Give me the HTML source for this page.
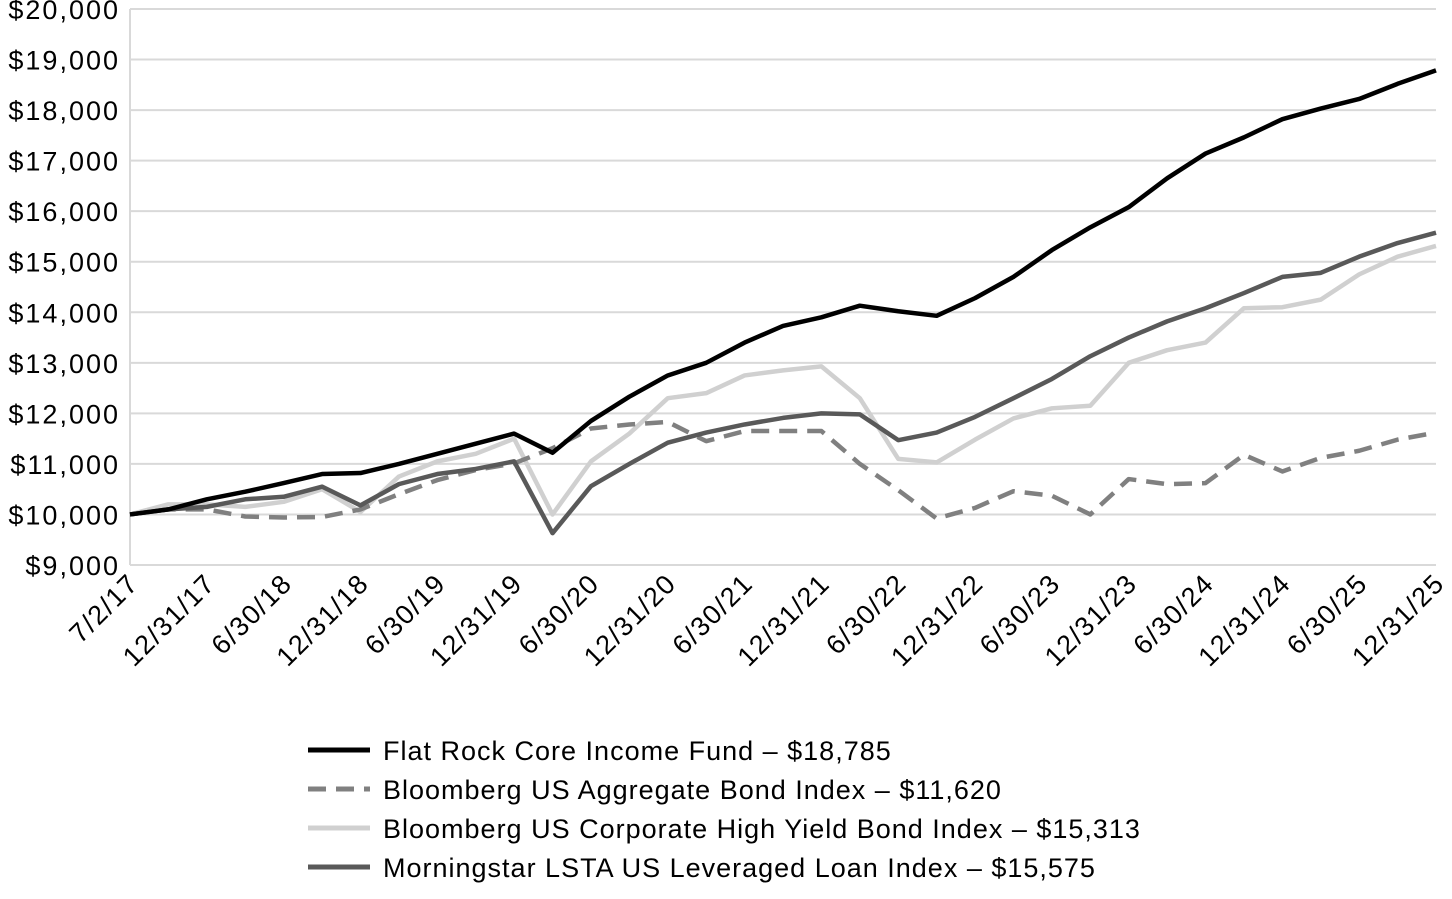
<!DOCTYPE html>
<html><head><meta charset="utf-8"><style>
html,body{margin:0;padding:0;background:#fff;}
svg{display:block;font-family:"Liberation Sans",sans-serif;}
</style></head><body>
<svg id="c" width="1452" height="899" viewBox="0 0 1452 899" xmlns="http://www.w3.org/2000/svg"></svg>
<script>
const s=document.getElementById('c');const NS='http://www.w3.org/2000/svg';
function el(t,a,txt){const e=document.createElementNS(NS,t);for(const k in a)e.setAttribute(k,a[k]);if(txt!==undefined)e.textContent=txt;s.appendChild(e);return e;}
const X0=130,X1=1436,Y20=9,Y9=565;
const yv=v=>Y9-(v-9000)*(Y9-Y20)/11000;
const xi=i=>X0+i*(X1-X0)/34;
for(let v=9000;v<=20000;v+=1000){const y=yv(v);
 el('line',{x1:X0,x2:X1,y1:y,y2:y,stroke:'#d9d9d9','stroke-width':2});
 el('text',{x:120,y:y+10,'text-anchor':'end','font-size':27,'letter-spacing':2,fill:'#000'},'$'+(v/1000)+',000');}
el('line',{x1:X0,x2:X0,y1:Y20,y2:Y9,stroke:'#d9d9d9','stroke-width':2});
const labs=['7/2/17','12/31/17','6/30/18','12/31/18','6/30/19','12/31/19','6/30/20','12/31/20','6/30/21','12/31/21','6/30/22','12/31/22','6/30/23','12/31/23','6/30/24','12/31/24','6/30/25','12/31/25'];
labs.forEach((l,k)=>{const x=xi(k*2)+10,y=585;el('text',{x:x,y:y,'text-anchor':'end','font-size':27,'letter-spacing':1.5,transform:`rotate(-45 ${x} ${y})`},l);});
const fr=[10000,10100,10300,10450,10620,10800,10820,11000,11200,11400,11600,11220,11850,12330,12750,13000,13400,13730,13900,14130,14020,13930,14280,14700,15230,15680,16080,16650,17140,17460,17820,18030,18220,18520,18785];
const ag=[10000,10100,10100,9960,9940,9950,10100,10400,10680,10880,11010,11310,11700,11780,11830,11450,11650,11650,11650,11000,10480,9920,10130,10460,10370,10000,10700,10600,10620,11180,10850,11120,11260,11480,11620];
const hy=[10000,10200,10200,10150,10250,10500,10050,10750,11050,11200,11500,10000,11050,11600,12300,12400,12750,12850,12930,12300,11100,11030,11480,11900,12100,12150,13000,13250,13400,14080,14100,14250,14750,15100,15313];
const ln=[10000,10100,10150,10300,10350,10550,10180,10600,10800,10900,11050,9630,10560,11000,11420,11620,11780,11910,12000,11980,11470,11620,11930,12300,12680,13130,13500,13820,14080,14380,14700,14780,15100,15370,15575];
function line(d,c,dash){el('polyline',{points:d.map((v,i)=>xi(i)+','+yv(v)).join(' '),fill:'none',stroke:c,'stroke-width':4.5,'stroke-linejoin':'round','stroke-dasharray':dash||'none'});}
line(hy,'#d0d0d0');line(ag,'#808080','18 10');line(ln,'#595959');line(fr,'#000');
const lg=[['Flat Rock Core Income Fund – $18,785','#000',''],['Bloomberg US Aggregate Bond Index – $11,620','#808080','18 10'],['Bloomberg US Corporate High Yield Bond Index – $15,313','#d0d0d0',''],['Morningstar LSTA US Leveraged Loan Index – $15,575','#595959','']];
lg.forEach((g,k)=>{const y=750+k*39;el('line',{x1:308,x2:370,y1:y,y2:y,stroke:g[1],'stroke-width':5,'stroke-dasharray':g[2]||'none'});
 el('text',{x:383,y:y+10,'font-size':27,'letter-spacing':1,fill:'#000'},g[0]);});
</script>
</body></html>
